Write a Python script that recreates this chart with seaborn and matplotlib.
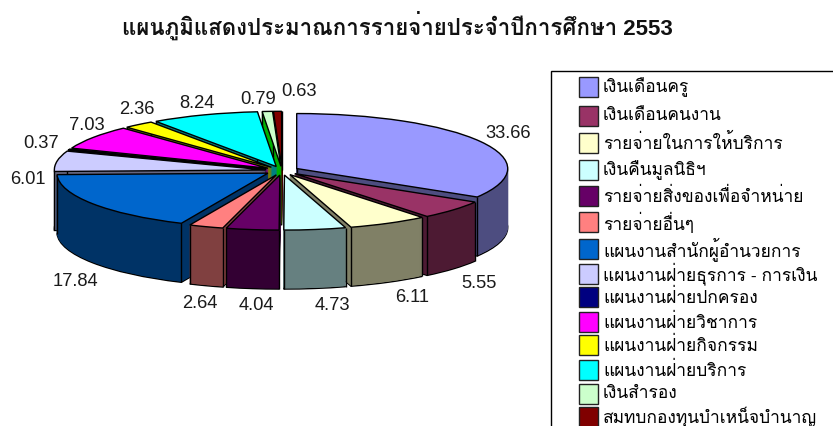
import numpy as np
import matplotlib
matplotlib.use('Agg')
import matplotlib.pyplot as plt
import seaborn as sns
from matplotlib.patches import Rectangle

sns.set_theme(style='white')
THAI = ['Liberation Sans', 'Loma']
plt.rcParams['font.family'] = THAI

title = 'แผนภูมิแสดงประมาณการรายจ่ายประจำปีการศึกษา 2553'
categories = ['เงินเดือนครู', 'เงินเดือนคนงาน', 'รายจ่ายในการให้บริการ', 'เงินคืนมูลนิธิฯ',
              'รายจ่ายสิ่งของเพื่อจำหน่าย', 'รายจ่ายอื่นๆ', 'แผนงานสำนักผู้อำนวยการ',
              'แผนงานฝ่ายธุรการ - การเงิน', 'แผนงานฝ่ายปกครอง', 'แผนงานฝ่ายวิชาการ',
              'แผนงานฝ่ายกิจกรรม', 'แผนงานฝ่ายบริการ', 'เงินสำรอง', 'สมทบกองทุนบำเหน็จบำนาญ']
values = [33.66, 5.55, 6.11, 4.73, 4.04, 2.64, 17.84, 6.01, 0.37, 7.03, 2.36, 8.24, 0.79, 0.63]
colors = ['#9999FF', '#993366', '#FFFFCC', '#CCFFFF', '#660066', '#FF8080', '#0066CC',
          '#CCCCFF', '#000080', '#FF00FF', '#FFFF00', '#00FFFF', '#CCFFCC', '#800000']

# layout (pixels)
W, H = 833, 426
label_xy = [(508, 134), (479, 284), (412, 298), (332, 305), (256, 305), (200, 303), (75, 282),
            (28, 180), (41, 144), (87, 126), (137, 110), (197, 103), (258, 100), (299, 91)]
legend_y = [87, 116, 142.7, 169.7, 196, 222.3, 248.7, 274, 297.3, 321.7, 345.3, 369.7, 393.7, 417]
CX, CY, RX, RY, DEPTH = 282, 170.7, 211, 55, 59
EXPLODE = 0.08

palette = sns.color_palette(colors)
side = [tuple(c * 0.5 for c in col) for col in palette]
side[12] = (0.0, 0.69, 0.0)   # the reserve slice has a bright green wall in the reference

fig = plt.figure(figsize=(W / 100, H / 100), dpi=100, facecolor='white')
ax = fig.add_axes([0, 0, 1, 1])

explode = [EXPLODE] * len(values)
fr = np.array(values) / sum(values)
start = np.concatenate([[0], np.cumsum(fr)[:-1]]) * 360
end = start + fr * 360
mid = (start + end) / 2
# painter's order: the slices furthest back first
order = np.argsort(np.argsort(-np.cos(np.radians(mid))))
layer = dict(radius=1, startangle=90, counterclock=False, normalize=True, explode=explode)

STEP = 1.0 / RY
# side walls, deepest layer first
for k in range(DEPTH, 0, -1):
    wp = dict(linewidth=1.0, edgecolor='black') if k == DEPTH else dict(linewidth=0.6)
    w, _ = ax.pie(values, colors=side, center=(0, -k * STEP), wedgeprops=wp, **layer)
    for i, p in enumerate(w):
        p.set_zorder(10 + 2 * order[i])
        if k != DEPTH:
            p.set_edgecolor(side[i])

# vertical wall edges and top faces
top, _ = ax.pie(values, colors=palette, center=(0, 0),
                wedgeprops=dict(linewidth=1.0, edgecolor='black'), **layer)
for i, p in enumerate(top):
    p.set_zorder(11.5 + 2 * order[i])
    ox = EXPLODE * np.sin(np.radians(mid[i]))
    oy = EXPLODE * np.cos(np.radians(mid[i]))
    for a in (start[i], end[i]):
        x = ox + np.sin(np.radians(a))
        y = oy + np.cos(np.radians(a))
        ax.plot([x, x], [y, y - DEPTH * STEP], color='black', lw=1.0, zorder=11 + 2 * order[i],
                solid_capstyle='butt')

ax.set_aspect('auto')
ax.set_xlim(-CX / RX, (W - CX) / RX)
ax.set_ylim((CY - H) / RY, CY / RY)
ax.axis('off')

# overlay in pixel units for texts and the legend box
ov = fig.add_axes([0, 0, 1, 1], facecolor='none')
ov.set_xlim(0, W)
ov.set_ylim(H, 0)
ov.axis('off')

ov.text(397, 25, title, ha='center', va='center', fontsize=16, fontweight='bold', color='#111111')
for v, (x, y) in zip(values, label_xy):
    ov.text(x, y, f'{v:.2f}', ha='center', va='center', fontsize=13.2, color='#1a1a1a')

ov.add_patch(Rectangle((551, 71), 300, 400, fc='white', ec='black', lw=1.0, clip_on=True))
for name, col, y in zip(categories, palette, legend_y):
    ov.add_patch(Rectangle((579, y - 10), 19, 20, fc=col, ec='#222222', lw=1.0))
    ov.text(603, y, name, ha='left', va='center', fontsize=12.5, color='black')

fig.savefig('out.png', dpi=100)
